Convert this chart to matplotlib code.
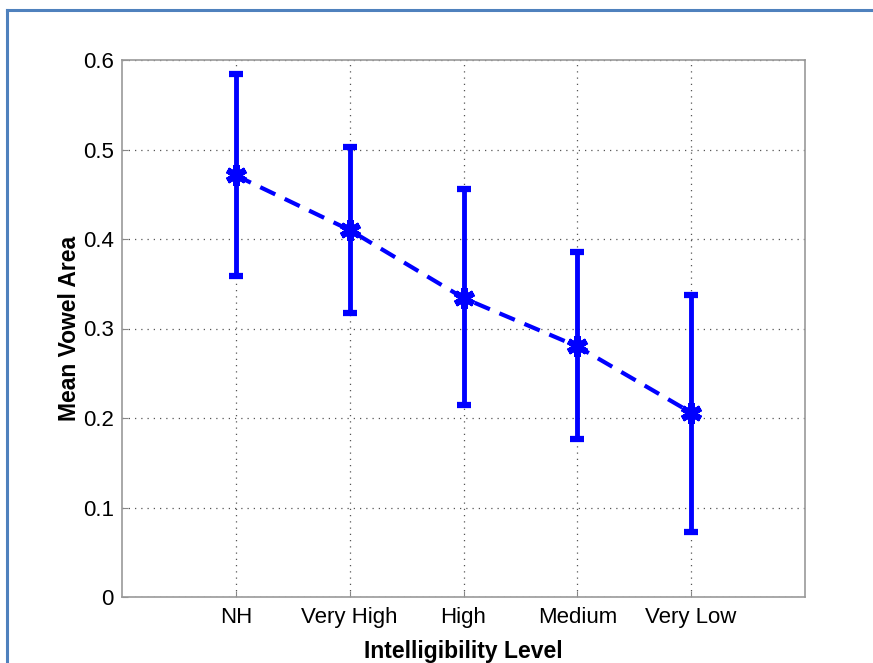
import matplotlib.pyplot as plt
from matplotlib.lines import Line2D

levels = ['NH', 'Very High', 'High', 'Medium', 'Very Low']
mean_area = [0.471, 0.410, 0.334, 0.280, 0.206]
lower = [0.359, 0.317, 0.214, 0.177, 0.073]
upper = [0.584, 0.503, 0.456, 0.385, 0.337]

plt.rcParams['font.family'] = ['Liberation Sans', 'DejaVu Sans']

x = list(range(1, len(levels) + 1))
err_lo = [m - l for m, l in zip(mean_area, lower)]
err_hi = [u - m for m, u in zip(mean_area, upper)]

fig = plt.figure(figsize=(8.73, 6.63), dpi=100)
ax = fig.add_axes([122 / 873, 66 / 663, 683 / 873, 537 / 663])

ax.errorbar(x, mean_area, yerr=[err_lo, err_hi], color='#0000ff', ls='--', lw=3,
            elinewidth=3.5, capsize=5, capthick=3.5, marker=(6, 2, 0),
            markersize=15, markeredgewidth=4.5, dashes=(4, 2.5))

ax.set_xlim(0, 6)
ax.set_ylim(0, 0.6)
ax.set_xticks(x)
ax.set_xticklabels(levels)
ax.set_yticks([0, 0.1, 0.2, 0.3, 0.4, 0.5, 0.6])
ax.set_yticklabels(['0', '0.1', '0.2', '0.3', '0.4', '0.5', '0.6'])
ax.tick_params(direction='in', length=4, labelsize=16, colors='#888888', labelcolor='black', pad=7)
ax.tick_params(axis='y', pad=6)
ax.grid(True, ls=(0, (1, 4)), color='#555555', lw=0.9)
for s in ax.spines.values():
    s.set_color('#999999')
    s.set_linewidth(1.2)

ax.set_xlabel('Intelligibility Level', fontsize=16.5, fontweight='bold', labelpad=9)
ax.set_ylabel('Mean Vowel Area', fontsize=16.5, fontweight='bold', labelpad=1)

# outer frame
fig.add_artist(Line2D([7 / 873, 7 / 873], [0, 1 - 10 / 663], color='#4f81bd', lw=2.2, transform=fig.transFigure))
fig.add_artist(Line2D([7 / 873, 1], [1 - 10 / 663, 1 - 10 / 663], color='#4f81bd', lw=2.2, transform=fig.transFigure))

fig.savefig('out.png', dpi=100)
